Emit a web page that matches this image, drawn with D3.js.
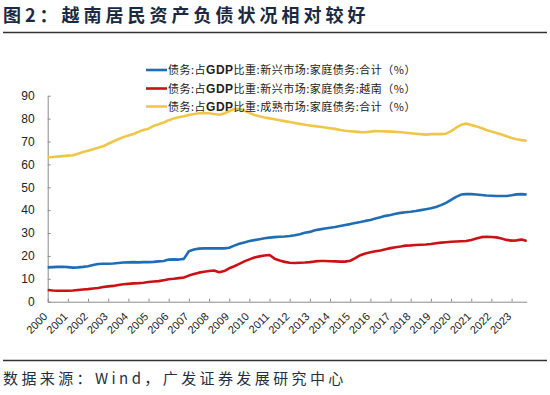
<!DOCTYPE html>
<html>
<head>
<meta charset="utf-8">
<script src="https://cdn.jsdelivr.net/npm/d3@7/dist/d3.min.js"></script>
<style>
  body { margin: 0; background: #fff; }
  svg { display: block; }
</style>
</head>
<body>
<svg id="chart" width="550" height="395"></svg>
<script>
// years on the x axis, quarterly data 2000Q1 - 2023Q4
var years = [2000, 2001, 2002, 2003, 2004, 2005, 2006, 2007, 2008, 2009, 2010, 2011,
             2012, 2013, 2014, 2015, 2016, 2017, 2018, 2019, 2020, 2021, 2022, 2023];
var quarters = ["Q1", "Q2", "Q3", "Q4"];

// 债务:占GDP比重:新兴市场:家庭债务:合计
var emergingTotal = [
  15.0, 15.1, 15.2, 15.3,  15.1, 14.9, 15.0, 15.2,  15.5, 16.0, 16.5, 16.6,
  16.6, 16.7, 16.9, 17.1,  17.2, 17.3, 17.2, 17.3,  17.3, 17.4, 17.6, 17.8,
  18.4, 18.5, 18.4, 18.7,  22.0, 22.8, 23.2, 23.3,  23.3, 23.3, 23.3, 23.3,
  23.6, 24.5, 25.3, 25.9,  26.5, 26.9, 27.3, 27.7,  28.0, 28.2, 28.4, 28.5,
  28.7, 29.0, 29.5, 30.1,  30.5, 31.2, 31.6, 32.0,  32.3, 32.6, 33.1, 33.5,
  33.9, 34.4, 34.8, 35.3,  35.7, 36.3, 36.9, 37.5,  37.9, 38.4, 38.8, 39.1,
  39.3, 39.6, 40.0, 40.4,  40.8, 41.4, 42.2, 43.2,  44.5, 45.8, 46.8, 47.0,
  47.0, 46.8, 46.6, 46.4,  46.3, 46.2, 46.2, 46.2,  46.5, 46.9, 47.0, 46.8
];
// 债务:占GDP比重:新兴市场:家庭债务:越南
var vietnam = [
   5.1,  4.9,  4.8,  4.8,   4.8,  4.9,  5.1,  5.3,   5.5,  5.8,  6.0,  6.4,
   6.7,  6.9,  7.3,  7.6,   7.8,  8.0,  8.1,  8.3,   8.6,  8.8,  9.0,  9.4,
   9.8, 10.0, 10.3, 10.6,  11.4, 12.1, 12.7, 13.1,  13.4, 13.6, 12.9, 13.4,
  14.6, 15.5, 16.5, 17.6,  18.5, 19.3, 19.8, 20.2,  20.4, 18.8, 18.0, 17.4,
  17.0, 16.9, 17.0, 17.1,  17.3, 17.6, 17.8, 17.8,  17.7, 17.6, 17.5, 17.5,
  17.9, 19.0, 20.3, 21.1,  21.6, 22.0, 22.4, 22.9,  23.4, 23.8, 24.1, 24.5,
  24.6, 24.8, 24.9, 25.0,  25.2, 25.5, 25.8, 26.0,  26.2, 26.3, 26.4, 26.5,
  27.0, 27.6, 28.2, 28.4,  28.3, 28.1, 27.6, 27.0,  26.7, 26.8, 27.2, 26.5
];
// 债务:占GDP比重:成熟市场:家庭债务:合计
var matureTotal = [
  63.0, 63.2, 63.4, 63.6,  63.8, 64.0, 64.6, 65.4,  66.0, 66.6, 67.3, 67.9,
  69.0, 70.0, 71.0, 71.9,  72.6, 73.3, 74.2, 75.0,  75.6, 76.8, 77.5, 78.3,
  79.3, 80.0, 80.6, 81.0,  81.6, 82.0, 82.3, 82.3,  82.3, 82.0, 81.7, 82.2,
  83.2, 84.2, 84.3, 83.5,  82.5, 81.6, 81.0, 80.5,  80.1, 79.7, 79.3, 78.9,
  78.5, 78.1, 77.7, 77.3,  77.0, 76.7, 76.4, 76.1,  75.8, 75.5, 75.0, 74.7,
  74.5, 74.3, 74.1, 74.0,  74.3, 74.6, 74.5, 74.4,  74.3, 74.2, 74.0, 73.8,
  73.6, 73.4, 73.2, 73.0,  73.2, 73.3, 73.2, 73.4,  74.5, 76.0, 77.3, 77.8,
  77.2, 76.6, 75.9, 75.0,  74.4, 73.7, 73.0, 72.3,  71.5, 71.0, 70.6, 70.3
];

var seriesNames = [
  ["债务:占", "GDP", "比重:新兴市场:家庭债务:合计（%）"],
  ["债务:占", "GDP", "比重:新兴市场:家庭债务:越南（%）"],
  ["债务:占", "GDP", "比重:成熟市场:家庭债务:合计（%）"]
];
var seriesValues = [emergingTotal, vietnam, matureTotal];
var yTicks = [0, 10, 20, 30, 40, 50, 60, 70, 80, 90];

var colors = ["#1f6db5", "#cc1116", "#f0c64a"];

var svg = d3.select("#chart");
var cjk = "'Noto Sans CJK SC', sans-serif";
var latin = "'Liberation Sans', Arial, sans-serif";

// categories: one per quarter
var cats = [];
years.forEach(function(y) {
  quarters.forEach(function(q) { cats.push(y + q); });
});

var x = d3.scalePoint()
    .domain(cats)
    .range([47.7, 526.7]);

var y = d3.scaleLinear()
    .domain([0, 90])
    .range([301.7, 95.7]);

// title
svg.append("text")
    .attr("x", 3)
    .attr("y", 21.5)
    .attr("font-family", cjk)
    .attr("font-size", 18)
    .attr("font-weight", 700)
    .attr("letter-spacing", 4)
    .attr("fill", "#1b2a41")
    .text("图2：越南居民资产负债状况相对较好");

svg.append("line")
    .attr("x1", 3).attr("x2", 547)
    .attr("y1", 32.5).attr("y2", 32.5)
    .attr("stroke", "#333")
    .attr("stroke-width", 1.5);

// axes
var xAxis = svg.append("g")
    .attr("transform", "translate(0," + y(0) + ")")
    .call(d3.axisBottom(x)
      .tickValues(cats.filter(function(c) { return c.slice(4) == "Q1"; }))
      .tickFormat(function(c) { return c.slice(0, 4); })
      .tickSizeInner(-3)
      .tickSizeOuter(0));

xAxis.select(".domain").attr("stroke", "#8c8c8c");
xAxis.selectAll(".tick line").attr("stroke", "#8c8c8c");
xAxis.selectAll(".tick text")
    .attr("font-family", latin)
    .attr("font-size", 11)
    .attr("fill", "#222")
    .attr("text-anchor", "end")
    .attr("y", 0)
    .attr("dy", 0)
    .attr("transform", "translate(0,15.5) rotate(-45)");

var yAxis = svg.append("g")
    .attr("transform", "translate(" + x(cats[0]) + ",0)")
    .call(d3.axisLeft(y)
      .tickValues(yTicks)
      .tickSizeInner(-3)
      .tickSizeOuter(0)
      .tickPadding(13));

yAxis.select(".domain").attr("stroke", "#8c8c8c");
yAxis.selectAll(".tick line").attr("stroke", "#8c8c8c");
yAxis.selectAll(".tick text")
    .attr("font-family", latin)
    .attr("font-size", 12)
    .attr("fill", "#222");

// lines
var line = d3.line()
    .x(function(d, i) { return x(cats[i]); })
    .y(function(d) { return y(d); });

[2, 0, 1].forEach(function(k) {
  svg.append("path")
      .datum(seriesValues[k])
      .attr("fill", "none")
      .attr("stroke", colors[k])
      .attr("stroke-width", 2.6)
      .attr("stroke-linejoin", "round")
      .attr("d", line);
});

// legend
var legendY = [70, 88.5, 106.5];
seriesNames.forEach(function(name, k) {
  var g = svg.append("g").attr("transform", "translate(146," + legendY[k] + ")");
  g.append("line")
      .attr("x1", 0).attr("x2", 21)
      .attr("stroke", colors[k])
      .attr("stroke-width", 2.6);
  var t = g.append("text")
      .attr("x", 22)
      .attr("y", 4)
      .attr("font-family", cjk)
      .attr("font-size", 11)
      .attr("letter-spacing", 0.5)
      .attr("fill", "#222");
  t.append("tspan").text(name[0]);
  t.append("tspan")
      .attr("font-family", latin)
      .attr("font-weight", 700)
      .attr("font-size", 12)
      .text(name[1]);
  t.append("tspan").text(name[2]);
});

// source
svg.append("line")
    .attr("x1", 3).attr("x2", 547)
    .attr("y1", 360.5).attr("y2", 360.5)
    .attr("stroke", "#333")
    .attr("stroke-width", 1.5);

svg.append("text")
    .attr("x", 3)
    .attr("y", 384)
    .attr("font-family", cjk)
    .attr("font-size", 15)
    .attr("letter-spacing", 3.4)
    .attr("fill", "#1f2f45")
    .text("数据来源：Wind，广发证券发展研究中心");
</script>
</body>
</html>
